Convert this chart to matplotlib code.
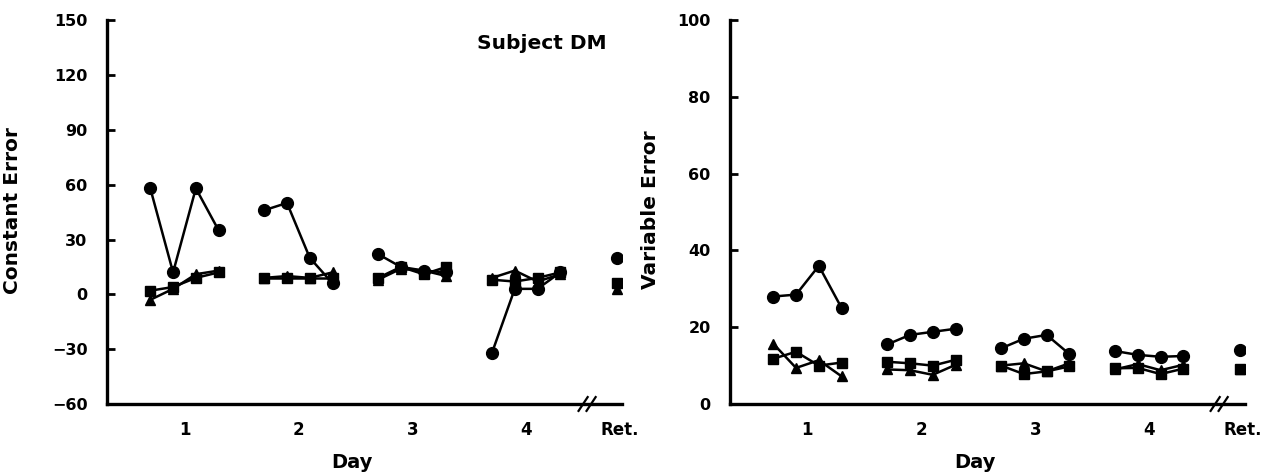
import matplotlib.pyplot as plt
from matplotlib import transforms

# block positions inside each day (4 blocks), retention test at the far right
days = [1, 2, 3, 4]
offsets = [-0.3, -0.1, 0.1, 0.3]
ret_x = 4.8
tick_pos = [1, 2, 3, 4, 4.82]
tick_labels = ["1", "2", "3", "4", "Ret."]

# constant error, one row per day
ce_circle = [[58, 12, 58, 35], [46, 50, 20, 6], [22, 15, 13, 12], [-32, 3, 3, 12]]
ce_square = [[2, 4, 9, 12], [9, 9, 9, 9], [9, 15, 11, 15], [8, 7, 9, 12]]
ce_triangle = [[-3, 3, 11, 13], [9, 10, 9, 12], [8, 14, 13, 10], [9, 13, 7, 11]]
ce_ret = [20, 6, 3]

# variable error, one row per day
ve_circle = [[28, 28.5, 36, 25], [15.5, 18, 18.8, 19.6], [14.5, 17, 18, 13], [13.8, 12.8, 12.3, 12.5]]
ve_square = [[11.8, 13.6, 10, 10.8], [11, 10.6, 10, 11.5], [10, 7.8, 8.5, 9.8], [9.3, 9.4, 7.8, 9.2]]
ve_triangle = [[15.7, 9.4, 11.4, 7.2], [9, 8.8, 7.6, 10.2], [10, 10.6, 8.5, 10.6], [9, 10.4, 8.8, 10.2]]
ve_ret = [14, 9, 9]

plt.rcParams["font.family"] = ["DejaVu Sans"]
plt.rcParams["font.weight"] = "bold"

fig = plt.figure(figsize=(12.68, 4.75), dpi=100)
ax1 = fig.add_axes([0.0844, 0.1495, 0.406, 0.808])
ax2 = fig.add_axes([0.5757, 0.1495, 0.406, 0.808])


def draw_series(ax, rows, marker, ms):
    for d, vals in zip(days, rows):
        xs = [d + o for o in offsets]
        ax.plot(xs, vals, color="black", lw=1.8, marker=marker, ms=ms,
                mfc="black", mec="black", zorder=3)


def style_axes(ax, ylim, yticks, ylabel, ylab_x, brk):
    ax.set_xlim(0.32, 4.84)
    ax.set_ylim(*ylim)
    ax.set_yticks(yticks)
    ax.set_xticks(tick_pos)
    ax.set_xticklabels(tick_labels)
    for s in ["top", "right"]:
        ax.spines[s].set_visible(False)
    for s in ["left", "bottom"]:
        ax.spines[s].set_linewidth(2.4)
    ax.tick_params(axis="y", direction="in", length=6, width=2, pad=14, labelsize=11.5)
    ax.tick_params(axis="x", length=0, pad=12, labelsize=12)
    for lab in ax.get_xticklabels() + ax.get_yticklabels():
        lab.set_fontweight("bold")
    ax.set_ylabel(ylabel, fontsize=14.5, fontweight="bold")
    ax.yaxis.set_label_coords(ylab_x, 0.505)
    ax.set_xlabel("Day", fontsize=14, fontweight="bold")
    ax.xaxis.set_label_coords(0.475, -0.128)
    # axis break marks
    tr = transforms.blended_transform_factory(ax.transData, ax.transAxes)
    for dx in (0, 0.07):
        ax.plot([brk + dx - 0.04, brk + dx + 0.04], [-0.018, 0.018], color="black",
                lw=1.6, transform=tr, clip_on=False, zorder=5)


for ax, c, s, t, r in [(ax1, ce_circle, ce_square, ce_triangle, ce_ret),
                       (ax2, ve_circle, ve_square, ve_triangle, ve_ret)]:
    draw_series(ax, t, "^", 7.5)
    draw_series(ax, s, "s", 7.5)
    draw_series(ax, c, "o", 8.5)
    ax.plot([ret_x], [r[0]], "o", color="black", ms=8.5)
    ax.plot([ret_x], [r[1]], "s", color="black", ms=7)
    ax.plot([ret_x], [r[2]], "^", color="black", ms=7)

style_axes(ax1, (-60, 150), range(-60, 151, 30), "Constant Error", -0.165, 4.5)
style_axes(ax2, (0, 100), range(0, 101, 20), "Variable Error", -0.136, 4.58)

ax1.text(4.14, 137, "Subject DM", ha="center", va="center", fontsize=14.5, fontweight="bold")

fig.savefig("out.png", dpi=100)
